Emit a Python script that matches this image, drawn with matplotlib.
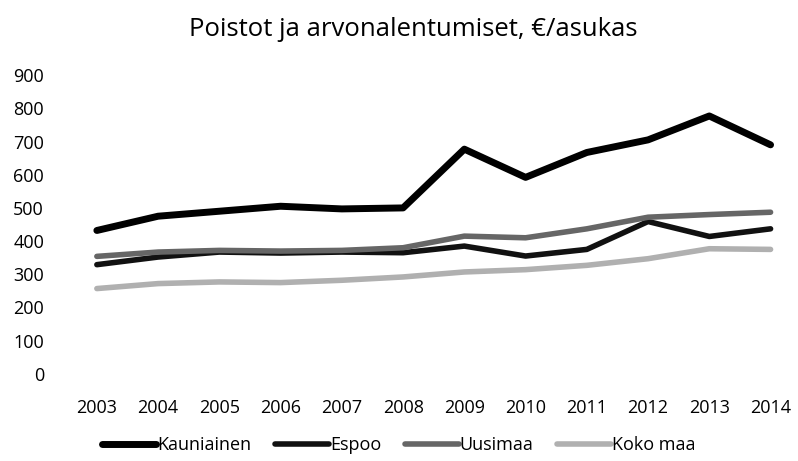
import matplotlib.pyplot as plt

plt.rcParams['font.family'] = ['Open Sans', 'DejaVu Sans']

years = ["2003", "2004", "2005", "2006", "2007", "2008",
         "2009", "2010", "2011", "2012", "2013", "2014"]
kauniainen = [432, 475, 490, 505, 497, 500, 677, 592, 667, 705, 777, 690]
espoo = [329, 352, 367, 364, 367, 365, 385, 355, 375, 459, 414, 437]
uusimaa = [354, 367, 372, 370, 372, 380, 415, 410, 437, 472, 480, 487]
koko_maa = [257, 272, 277, 275, 282, 292, 307, 314, 327, 347, 377, 375]

fig = plt.figure(figsize=(7.98, 4.61), dpi=100)
ax = fig.add_axes([0.083, 0.189, 0.921, 0.648])

x = range(len(years))
ax.plot(x, kauniainen, color="black", lw=5, label="Kauniainen", solid_capstyle="round")
ax.plot(x, espoo, color="#111111", lw=4, label="Espoo", solid_capstyle="round")
ax.plot(x, uusimaa, color="#666666", lw=4, label="Uusimaa", solid_capstyle="round")
ax.plot(x, koko_maa, color="#b0b0b0", lw=4, label="Koko maa", solid_capstyle="round")

ax.set_xlim(-0.5, len(years) - 0.5)
ax.set_ylim(0, 900)
ax.set_yticks(range(0, 901, 100))
ax.set_xticks(list(x))
ax.set_xticklabels(years)
ax.tick_params(length=0, labelsize=13, pad=16)
ax.tick_params(axis="x", pad=18)
for s in ax.spines.values():
    s.set_visible(False)

fig.text(0.518, 0.935, "Poistot ja arvonalentumiset, €/asukas", ha="center", va="center", fontsize=18.5)

fig.legend(loc="center", bbox_to_anchor=(0.50, 0.035), ncol=4, frameon=False,
           fontsize=13, handlelength=3.0, handletextpad=0.05, columnspacing=1.3)

fig.savefig("out.png")
